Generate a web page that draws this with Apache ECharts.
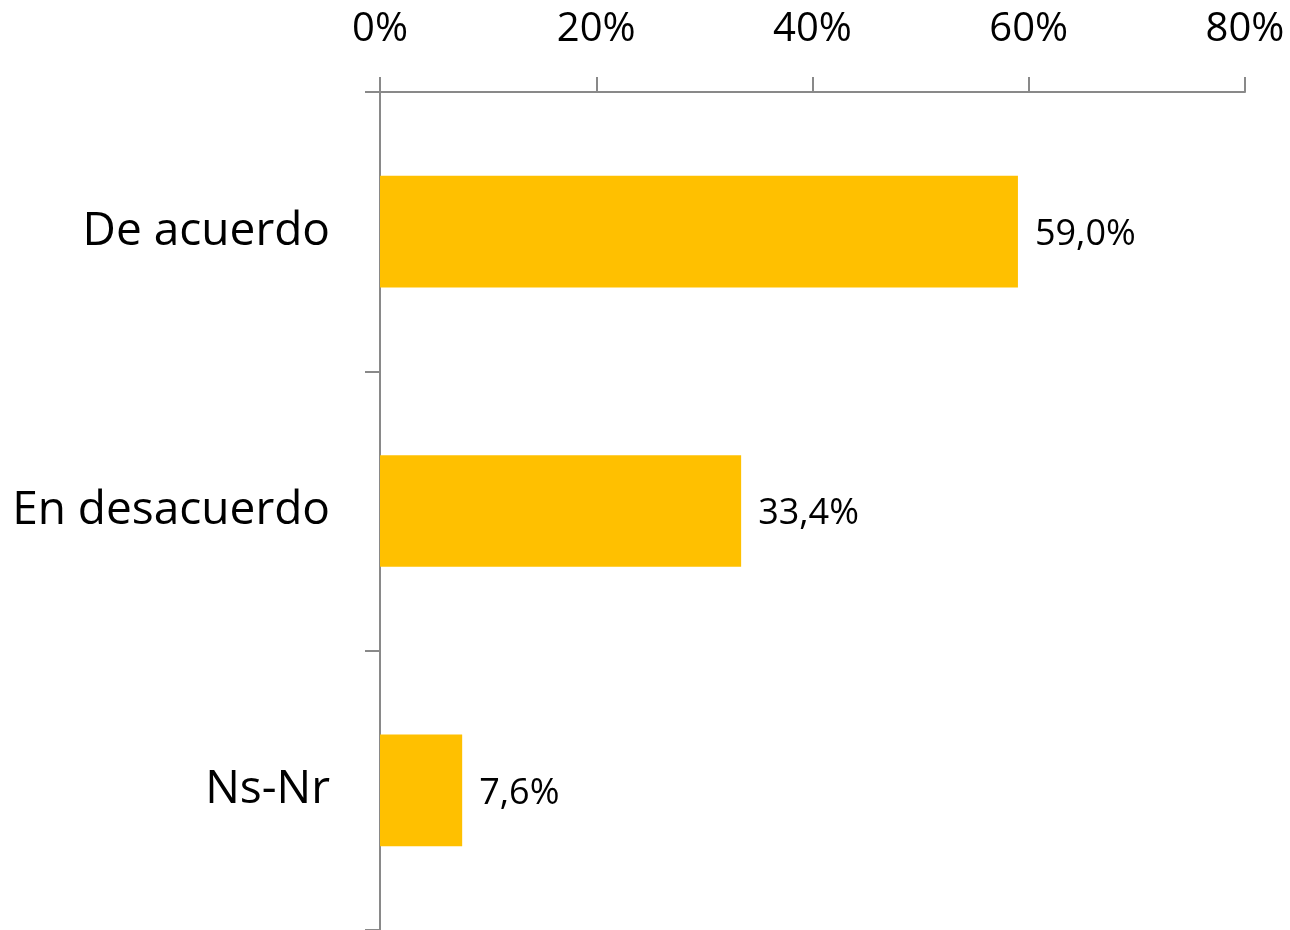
<!DOCTYPE html>
<html>
<head>
<meta charset="utf-8">
<script src="https://cdn.jsdelivr.net/npm/echarts@6/dist/echarts.min.js"></script>
<style>
html,body{margin:0;padding:0;background:#fff;}
#chart{width:1290px;height:930px;}
</style>
</head>
<body>
<div id="chart"></div>
<script>
const categories = ["De acuerdo", "En desacuerdo", "Ns-Nr"];
const values = [59.0, 33.4, 7.6];
const tickValues = [0, 20, 40, 60, 80];

const FONT = "Open Sans";
const chart = echarts.init(document.getElementById('chart'), null, {renderer: 'canvas'});
chart.setOption({
  animation: false,
  backgroundColor: '#ffffff',
  grid: {left: 380, right: 45, top: 92, bottom: 0, containLabel: false},
  xAxis: {
    type: 'value',
    position: 'top',
    min: tickValues[0],
    max: tickValues[tickValues.length - 1],
    interval: 20,
    axisLine: {show: true, lineStyle: {color: '#898989', width: 2}},
    axisTick: {show: true, inside: false, length: 15, lineStyle: {color: '#898989', width: 2}},
    splitLine: {show: false},
    axisLabel: {
      margin: 42,
      fontFamily: FONT, fontSize: 40, color: '#000',
      formatter: v => v + '%'
    }
  },
  yAxis: {
    type: 'category',
    data: categories,
    inverse: true,
    axisLine: {show: true, lineStyle: {color: '#898989', width: 2}},
    axisTick: {show: true, length: 15, alignWithLabel: false, lineStyle: {color: '#898989', width: 2}},
    axisLabel: {margin: 50, fontFamily: FONT, fontSize: 46, color: '#000', padding: [5, 0, 0, 0]}
  },
  series: [{
    type: 'bar',
    data: values,
    barWidth: '40%',
    itemStyle: {color: '#FFC000'},
    label: {
      show: true, position: 'right', distance: 17,
      fontFamily: FONT, fontSize: 36, color: '#000',
      offset: [0, 3],
      formatter: p => p.value.toFixed(1).replace('.', ',') + '%'
    }
  }]
});
</script>
</body>
</html>
